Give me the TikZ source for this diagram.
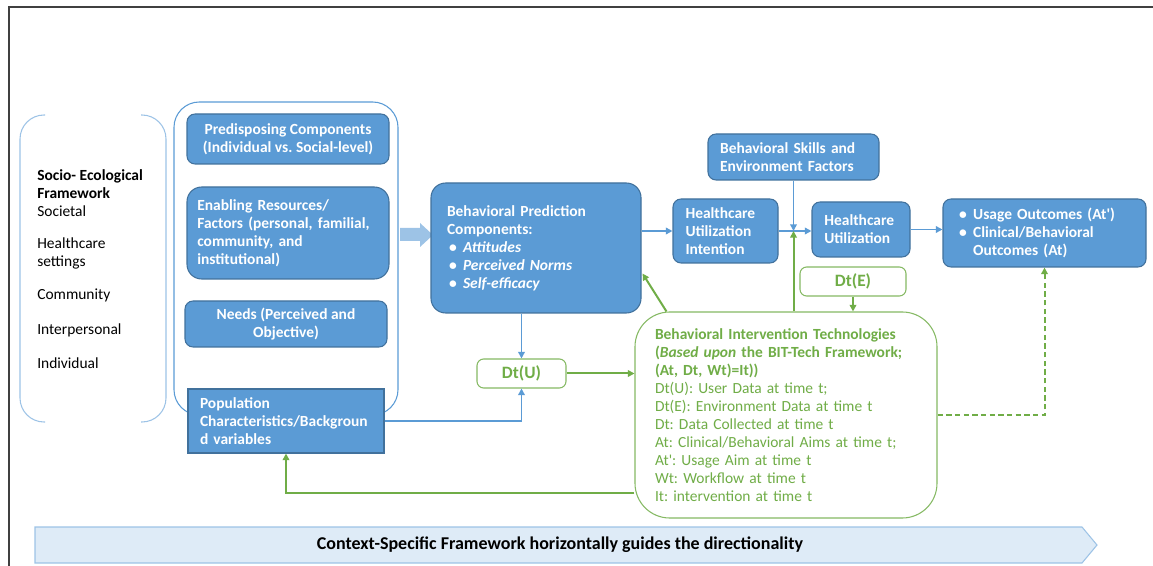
\documentclass[11pt,tikz,border=0pt]{standalone}
\usepackage{fontspec}
\setmainfont{Carlito}
\usepackage{xcolor}
\usepackage{tikz}
\usetikzlibrary{arrows.meta,calc}
\definecolor{boxBlue}{HTML}{5B9BD5}
\definecolor{boxEdge}{HTML}{41719C}
\definecolor{lightBlue}{HTML}{9DC3E6}
\definecolor{paleBlue}{HTML}{DEEBF7}
\definecolor{bitGreen}{HTML}{70AD47}
\definecolor{frameGrey}{HTML}{404040}
\frenchspacing
\newcommand{\basefont}{\fontsize{11.6}{13.5}\selectfont}
\newcommand{\bul}{\makebox[12pt][l]{\hspace{1.5pt}\textbullet}}
\tikzset{box blue/.style 2 args={
    rectangle, rounded corners=6pt,
    fill=boxBlue, draw=boxEdge, line width=0.8pt,
    text=white, font=\basefont\bfseries, inner sep=0pt,
    minimum width=#1, minimum height=#2
  },
  box green/.style 2 args={
    rectangle, rounded corners=5pt,
    fill=white, draw=bitGreen!85, line width=0.8pt,
    text=bitGreen, font=\basefont, inner sep=0pt,
    minimum width=#1, minimum height=#2
  },
  blue line/.style={
    draw=boxBlue, line width=1.2pt,
    -{Triangle[length=5pt,width=5pt]}
  },
  green line/.style={
    draw=bitGreen, line width=1.5pt,
    -{Triangle[length=5pt,width=5pt]}
  },
  bracket/.style={
    draw=lightBlue, line width=0.8pt, rounded corners=18pt
  },
  level/.style={
    anchor=west, inner sep=0pt, font=\basefont
  }
}

\begin{document}
\begin{tikzpicture}[x=0.75pt,y=-0.75pt]
      \useasboundingbox (0,0) rectangle (1153,566);
      \draw[frameGrey, line width=1pt] (9,566) -- (9,7) -- (1153,7);
      % socio-ecological levels
      \draw[bracket] (45,115) -- (20,115) -- (20,422) -- (45,422);
      \draw[bracket] (141,115) -- (166,115) -- (166,422) -- (141,422);
      \node[level, font=\basefont\bfseries, align=left] (sef) at (37,184) {Socio- Ecological\\Framework};
      \node[level] (soc) at (37,211) {Societal};
      \node[level, align=left] (hcs) at (37,253.5) {Healthcare\\settings};
      \node[level] (com) at (37,295) {Community};
      \node[level] (ipl) at (37,330) {Interpersonal};
      \node[level] (ind) at (37,363) {Individual};
      % andersen components
      \draw[draw=boxBlue, line width=0.8pt, rounded corners=19pt] (174,102) rectangle (398,415);
      \node[box blue={151.5pt}{37.5pt}, align=center] (pre) at (288,139)
      {Predisposing Components\\(Individual vs. Social-level)};
      \node[box blue={151.5pt}{69pt}, rounded corners=11pt, text width=136pt, align=left] (ena) at (288,233)
      {Enabling Resources/\\Factors (personal, familial,\\community, and\\institutional)};
      \node[box blue={151.5pt}{34.5pt}, align=center] (need) at (286,324) {Needs (Perceived and\\Objective)};
      \node[box blue={147pt}{48pt}, sharp corners, text width=129pt, align=left] (pop) at (286,421)
      {Population\\Characteristics/Backgroun\\d variables};
      \fill[lightBlue] (400,228) -- (420,228) -- (420,223) -- (433,235) -- (420,247) -- (420,241) -- (400,241) -- cycle;
      \node[box blue={157.5pt}{97.5pt}, rounded corners=11pt, text width=133.5pt, align=left] (bp) at (536,248)
      {Behavioral Prediction\\Components:\\\bul\textit{Attitudes}\\\bul\textit{Perceived Norms}\\\bul\textit{Self-efficacy}};
      \node[box blue={78.75pt}{48pt}, text width=60pt, align=left] (hui) at (725.5,231) {Healthcare\\Utilization\\Intention};
      \node[box blue={128.25pt}{34.5pt}, text width=110pt, align=left] (bsk) at (793.5,157)
      {Behavioral Skills and\\Environment Factors};
      \node[box blue={73.5pt}{41.25pt}, text width=55pt, align=left] (hcu) at (861,229.5) {Healthcare\\Utilization};
      \node[box blue={152.25pt}{51pt}, text width=131pt, align=left] (out) at (1044.5,233)
      {\bul Usage Outcomes (At\textquotesingle)\\\bul Clinical/Behavioral\\\hspace*{12pt}Outcomes (At)};
      % BIT-Tech side
      \node[box green={79.5pt}{21.75pt}, font=\fontsize{13}{15}\selectfont\bfseries] (dte) at (853,281.5) {Dt(E)};
      \node[box green={66.75pt}{21.75pt}, font=\fontsize{13}{15}\selectfont\bfseries] (dtu) at (521.5,373.5) {Dt(U)};
      \node[box green={226.5pt}{154.5pt}, rounded corners=26pt, text width=196.5pt, align=left] (bit) at (786,415)
      {\textbf{Behavioral Intervention Technologies}\\
        \textbf{(\textit{Based upon} the BIT-Tech Framework;}\\
        \textbf{(At, Dt, Wt)=It))}\\
        Dt(U): User Data at time t;\\
        Dt(E): Environment Data at time t\\
        Dt: Data Collected at time t\\
        At: Clinical/Behavioral Aims at time t;\\
        At\textquotesingle: Usage Aim at time t\\
        Wt: Workflow at time t\\
        It: intervention at time t};
      \coordinate (jn) at (bsk.south |- hui.east);
      \draw[blue line] (bp.east |- hui.west) -- (hui.west);
      \draw[blue line] (hui.east) -- (hui.east -| hcu.west);
      \draw[blue line] (bsk.south) -- (jn);
      \draw[green line] (bit.north -| jn) -- (jn);
      \draw[green line] (dte.south) -- (dte.south |- bit.north);
      \draw[green line] ($(bit.north west)+(32,0)$) -- ($(bp.south east)+(1,-40)$);
      \draw[blue line] (dtu.north |- bp.south) -- (dtu.north);
      \draw[blue line] (pop.east) -| (dtu.south);
      \draw[green line] (dtu.east) -- (dtu.east -| bit.west);
      \draw[green line] ($(bit.south west)+(0,-26)$) -| (pop.south);
      \draw[green line, dash pattern=on 4pt off 2.5pt] (bit.east) -| (out.south);
      \draw[blue line] (hcu.east) -- (hcu.east -| out.west);
      % context arrow
      \draw[draw=lightBlue, fill=paleBlue, line width=0.8pt]
      (35,527) -- (1082,527) -- (1097,545) -- (1082,563) -- (35,563) -- cycle;
      \node[font=\fontsize{13.5}{15}\selectfont\bfseries] (ctx) at (560,545)
      {Context-Specific Framework horizontally guides the directionality};
\end{tikzpicture}
\end{document}
